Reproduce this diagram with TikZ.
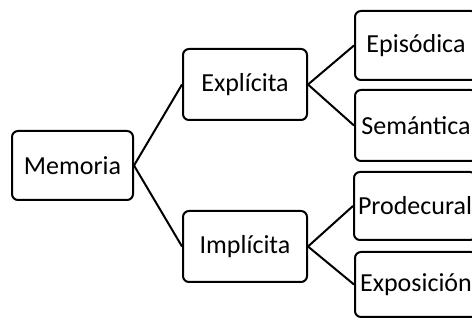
\documentclass[tikz,border=0pt]{standalone}
\usepackage{fontspec}
\setmainfont{Carlito}
\begin{document}
\begin{tikzpicture}[x=1pt,y=1pt,
  box/.style={draw=black, line width=2pt, rounded corners=6pt, fill=white,
    minimum width=122pt, minimum height=70pt, inner sep=0pt,
    font=\fontsize{26}{30}\selectfont, text=black},
  link/.style={draw=black, line width=2pt}]
\useasboundingbox (0,0) rectangle (472,320);
\clip (0,0) rectangle (472,320);
\node[box, minimum width=121pt, minimum height=69pt] (mem) at (72.5,154.5) {Memoria};
\node[box, minimum width=124pt, minimum height=71pt] (exp) at (245,235.5) {Explícita};
\node[box, minimum width=124pt, minimum height=71pt] (imp) at (245,73.5) {Implícita};
\node[box, minimum height=69pt] (epi) at (416,274.5) {Episódica};
\node[box, minimum height=71pt] (sem) at (416,194.5) {Semántica};
\node[box, minimum height=68pt] (pro) at (415,114) {Prodecural};
\node[box, minimum height=65pt] (expo) at (416,35.5) {Exposición};
\draw[link] (mem.east) -- (exp.west);
\draw[link] (mem.east) -- (imp.west);
\draw[link] (exp.east) -- (epi.west);
\draw[link] (exp.east) -- (sem.west);
\draw[link] (imp.east) -- (pro.west);
\draw[link] (imp.east) -- (expo.west);
\end{tikzpicture}
\end{document}
